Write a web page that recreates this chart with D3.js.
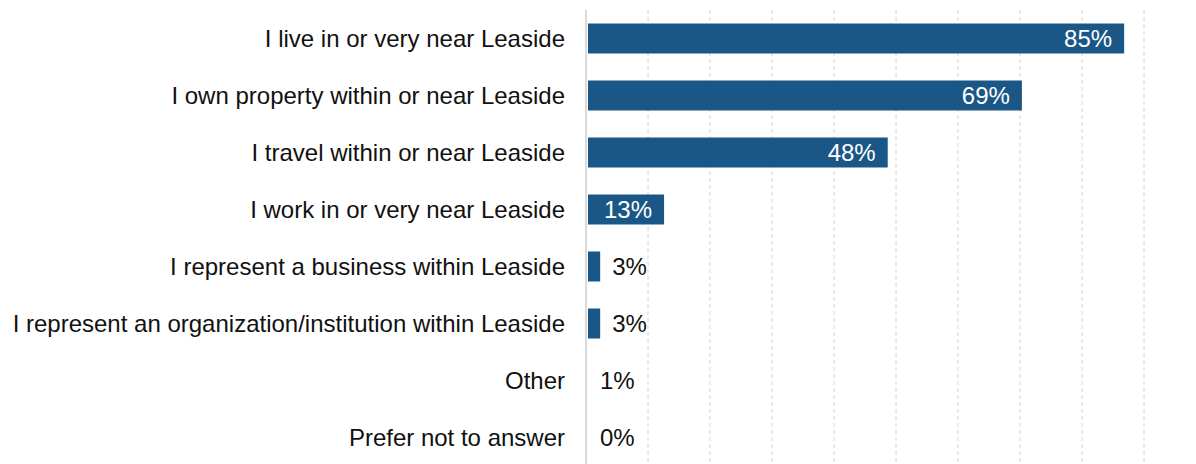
<!DOCTYPE html>
<html>
<head>
<meta charset="utf-8">
<script src="https://cdn.jsdelivr.net/npm/d3@7/dist/d3.min.js"></script>
<style>
  html, body { margin: 0; padding: 0; background: #fff; }
  svg { display: block; }
  text { font-family: "Liberation Sans", Arial, sans-serif; }
</style>
</head>
<body>
<svg id="chart" width="1196" height="464"></svg>
<script>
// Survey responses: relationship to Leaside (% of respondents)
const categories = [
  "I live in or very near Leaside",
  "I own property within or near Leaside",
  "I travel within or near Leaside",
  "I work in or very near Leaside",
  "I represent a business within Leaside",
  "I represent an organization/institution within Leaside",
  "Other",
  "Prefer not to answer"
];
const values = [85, 69, 48, 13, 3, 3, 1, 0];
const gridSteps = d3.range(1, 10);

const W = 1196, H = 464;
const svg = d3.select("#chart");

const axisX = 586;       // vertical category axis
const barStart = 588;    // bars begin just right of the axis

const x = d3.scaleLinear().domain([0, 100]).range([581, 1220]);
const y = d3.scaleBand().domain(categories).range([10, 466]).paddingInner(0.474).paddingOuter(0.237);
const grid = d3.scaleLinear().domain([0, 9]).range([axisX, 1144]);

// dashed vertical gridlines
svg.append("g").selectAll("line").data(gridSteps).join("line")
  .attr("x1", d => grid(d)).attr("x2", d => grid(d))
  .attr("y1", 10).attr("y2", H)
  .attr("stroke", "#d4d4d4").attr("stroke-width", 1)
  .attr("stroke-dasharray", "4,3");

// bars
svg.append("g").selectAll("rect").data(values).join("rect")
  .attr("x", barStart)
  .attr("y", (d, i) => y(categories[i]))
  .attr("width", d => Math.max(0, x(d) - barStart))
  .attr("height", y.bandwidth())
  .attr("fill", "#1a5787");

// axis line
svg.append("line")
  .attr("x1", axisX).attr("x2", axisX).attr("y1", 10).attr("y2", H)
  .attr("stroke", "#d9d9d9").attr("stroke-width", 2);

// category labels
svg.append("g").selectAll("text").data(categories).join("text")
  .attr("x", 565)
  .attr("y", d => y(d) + y.bandwidth() / 2)
  .attr("dy", "0.34em")
  .attr("text-anchor", "end")
  .attr("font-size", 24)
  .attr("fill", "#111")
  .text(d => d);

// value labels: inside the bar end when it fits, otherwise just outside
svg.append("g").selectAll("text").data(values).join("text")
  .each(function(d, i) {
    const inside = d >= 10;
    const end = Math.max(x(d), barStart);
    d3.select(this)
      .attr("x", inside ? end - 12 : end + 12)
      .attr("y", y(categories[i]) + y.bandwidth() / 2)
      .attr("dy", "0.34em")
      .attr("text-anchor", inside ? "end" : "start")
      .attr("font-size", 24)
      .attr("fill", inside ? "#fff" : "#111")
      .text(d + "%");
  });
</script>
</body>
</html>
